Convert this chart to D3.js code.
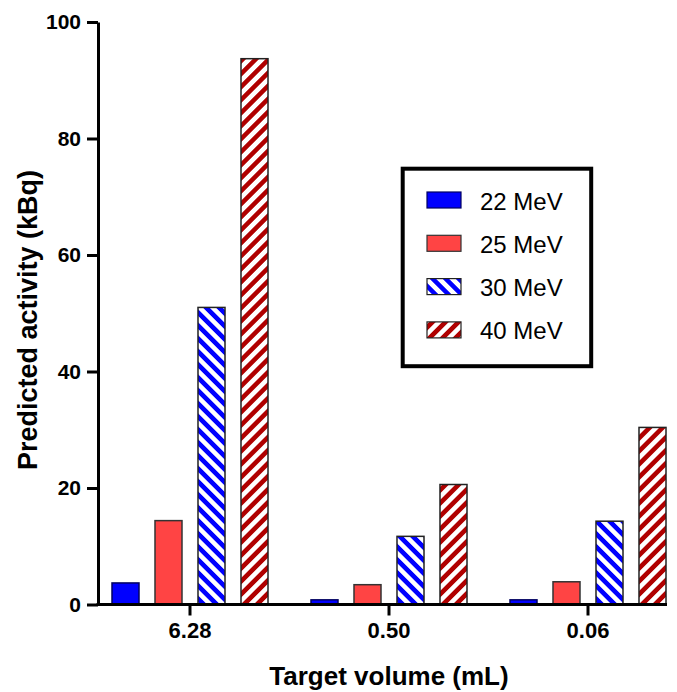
<!DOCTYPE html>
<html>
<head>
<meta charset="utf-8">
<script src="https://cdn.jsdelivr.net/npm/d3@7"></script>
<style>
  html, body { margin: 0; padding: 0; background: #fff; }
  svg { display: block; font-family: "Liberation Sans", Arial, Helvetica, sans-serif; }
</style>
</head>
<body>
<svg id="chart" width="677" height="692"></svg>
<script>
const categories = ["6.28", "0.50", "0.06"];
const seriesNames = ["22 MeV", "25 MeV", "30 MeV", "40 MeV"];
const values22 = [3.7, 0.8, 0.8];
const values25 = [14.4, 3.4, 3.9];
const values30 = [51.0, 11.7, 14.3];
const values40 = [93.7, 20.6, 30.4];
const yTicks = [0, 20, 40, 60, 80, 100];

const seriesValues = [values22, values25, values30, values40];
const svg = d3.select("#chart");

const defs = svg.append("defs");
function stripes(id, color, angle) {
  const p = defs.append("pattern")
    .attr("id", id)
    .attr("patternUnits", "userSpaceOnUse")
    .attr("width", 9.2).attr("height", 9.2)
    .attr("patternTransform", `rotate(${angle})`);
  p.append("rect").attr("width", 9.2).attr("height", 9.2).attr("fill", "#fff");
  p.append("rect").attr("width", 4.6).attr("height", 9.2).attr("fill", color);
}
stripes("hatchBlue", "#0000ff", -45);
stripes("hatchRed", "#b00000", 45);

const fills = ["#0000ff", "#ff4444", "url(#hatchBlue)", "url(#hatchRed)"];
const strokes = ["#000060", "#333", "#222", "#222"];

const y = d3.scaleLinear().domain([0, 100]).range([604.5, 22]);
const x0 = d3.scaleBand().domain(categories).range([90.5, 687.5]).paddingInner(0).paddingOuter(0);
const x1 = d3.scaleBand().domain(seriesNames).range([21.5, 177.5]).paddingInner(0.372).paddingOuter(0);

// bars
const groups = svg.append("g").selectAll("g")
  .data(categories)
  .join("g")
  .attr("transform", d => `translate(${x0(d)},0)`);

groups.selectAll("rect")
  .data((c, ci) => seriesNames.map((s, si) => ({ s, si, v: seriesValues[si][ci] })))
  .join("rect")
  .attr("x", d => x1(d.s))
  .attr("width", x1.bandwidth())
  .attr("y", d => y(d.v))
  .attr("height", d => y(0) - y(d.v))
  .attr("fill", d => fills[d.si])
  .attr("stroke", d => strokes[d.si])
  .attr("stroke-width", 1.5);

// y axis
const yAxis = d3.axisLeft(y).tickValues(yTicks).tickSize(11).tickPadding(6).tickSizeOuter(0);
const gy = svg.append("g").attr("transform", "translate(98,0)").call(yAxis);
gy.select(".domain").attr("stroke", "#000").attr("stroke-width", 3);
gy.selectAll(".tick line").attr("stroke", "#000").attr("stroke-width", 3);
gy.selectAll(".tick text").attr("font-size", 21).attr("font-weight", "bold").attr("fill", "#000")
  .attr("font-family", "'Liberation Sans', Arial, sans-serif");

// x axis
const xAxis = d3.axisBottom(x0).tickSize(11).tickPadding(7).tickSizeOuter(0);
const gx = svg.append("g").attr("transform", "translate(0,604.5)").call(xAxis);
gx.select(".domain").remove();
gx.append("line").attr("x1", 96.5).attr("x2", 667).attr("y1", 0).attr("y2", 0)
  .attr("stroke", "#000").attr("stroke-width", 3);
gx.selectAll(".tick line").attr("stroke", "#000").attr("stroke-width", 3);
gx.selectAll(".tick text").attr("font-size", 22).attr("font-weight", "bold").attr("fill", "#000")
  .attr("font-family", "'Liberation Sans', Arial, sans-serif");

// axis titles
svg.append("text")
  .attr("x", 389).attr("y", 685)
  .attr("text-anchor", "middle")
  .attr("font-size", 26).attr("font-weight", "bold")
  .text("Target volume (mL)");

svg.append("text")
  .attr("transform", "translate(37,320) rotate(-90)")
  .attr("text-anchor", "middle")
  .attr("font-size", 27).attr("font-weight", "bold")
  .text("Predicted activity (kBq)");

// legend
const lg = svg.append("g");
lg.append("rect")
  .attr("x", 402.7).attr("y", 168.7).attr("width", 188.5).attr("height", 197.5)
  .attr("fill", "#fff").attr("stroke", "#000").attr("stroke-width", 4);
const rows = lg.selectAll("g.row").data(seriesNames).join("g")
  .attr("class", "row")
  .attr("transform", (d, i) => `translate(0,${192 + i * 43.3})`);
rows.append("rect")
  .attr("x", 427).attr("y", 0).attr("width", 34).attr("height", 16)
  .attr("fill", (d, i) => fills[i])
  .attr("stroke", (d, i) => strokes[i])
  .attr("stroke-width", 1.2);
rows.append("text")
  .attr("x", 480).attr("y", 17.5)
  .attr("font-size", 24)
  .attr("fill", "#000")
  .text(d => d);
</script>
</body>
</html>
